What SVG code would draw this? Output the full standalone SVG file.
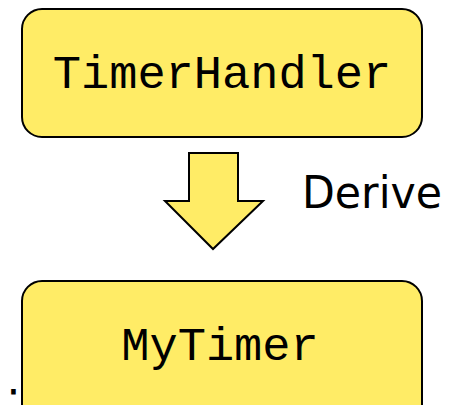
<svg xmlns="http://www.w3.org/2000/svg" width="449" height="405" viewBox="0 0 449 405">
  <style>
    .node { fill: #FFEC66; stroke: #000; stroke-width: 2; }
    .mono { font-family: "Liberation Mono", "Courier New", monospace; font-size: 47px; fill: #000; }
    .hand { font-family: "DejaVu Sans", sans-serif; font-size: 44px; fill: #000; }
  </style>
  <rect width="449" height="405" fill="#fff"/>
  <g id="timer-handler">
    <rect class="node" x="22" y="9" width="400" height="128" rx="20" ry="20"/>
    <text class="mono" x="222" y="88" text-anchor="middle">TimerHandler</text>
  </g>
  <g id="connectors">
    <path class="node" d="M189 153 H238 V201 H263 L213 249 L165 201 H189 Z" stroke-linejoin="miter"/>
    <text class="hand" x="302" y="208" textLength="140" lengthAdjust="spacingAndGlyphs">Derive</text>
  </g>
  <g id="my-timer">
    <rect class="node" x="22" y="281" width="400" height="150" rx="20" ry="20"/>
    <text class="mono" x="220" y="360" text-anchor="middle">MyTimer</text>
  </g>
  <text class="hand" x="6" y="412">;</text>
</svg>
